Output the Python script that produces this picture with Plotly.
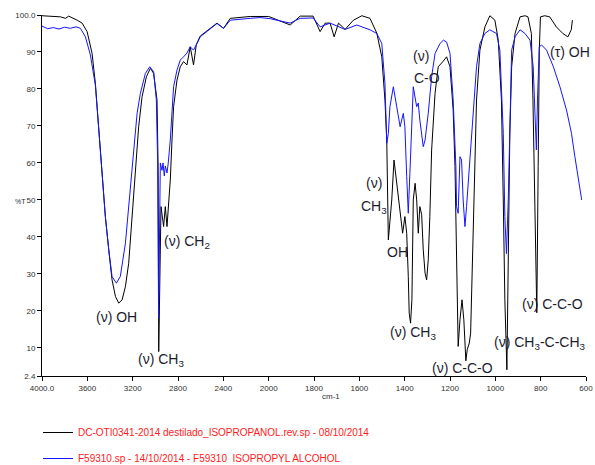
import plotly.graph_objects as go

# ---- Spectrum 1: distilled isopropanol (black) ----
black_wn = [4000, 3925, 3837, 3793, 3764, 3690, 3646, 3602, 3558, 3529, 3508, 3485, 3461, 3441,
            3411, 3382, 3352, 3323, 3293, 3264, 3235, 3205, 3176, 3147, 3117, 3079, 3044, 3015,
            2985, 2975, 2970, 2950, 2927, 2912, 2897, 2886, 2868, 2853, 2839, 2809, 2780, 2751,
            2721, 2692, 2663, 2639, 2604, 2545, 2456, 2398, 2339, 2163, 2000, 1905, 1861, 1804,
            1773, 1751, 1729, 1711, 1692, 1663, 1626, 1589, 1553, 1523, 1501, 1487, 1479, 1472,
            1457, 1447, 1435, 1420, 1409, 1399, 1391, 1384, 1380, 1374, 1368, 1362, 1354, 1347,
            1340, 1333, 1325, 1318, 1310, 1303, 1296, 1289, 1281, 1266, 1252, 1230, 1215, 1200,
            1186, 1178, 1171, 1164, 1156, 1147, 1139, 1130, 1124, 1115, 1109, 1105, 1097, 1090,
            1083, 1068, 1046, 1024, 1002, 987, 973, 965, 958, 949, 943, 936, 928, 913, 891, 869,
            856, 841, 834, 827, 817, 811, 806, 801, 782, 760, 731, 702, 680, 665, 660]
black_t = [99.8, 99.6, 99.5, 99.1, 99.7, 98.6, 97.8, 95.5, 89.6, 81.5, 72.5, 63.5, 54.6, 45.5,
           36.5, 28.4, 23.9, 22.1, 23.0, 26.6, 32.9, 45.5, 59.0, 69.8, 77.9, 83.3, 85.6, 84.2,
           77.0, 58.0, 9.0, 48.2, 42.8, 48.2, 42.8, 47.3, 55.4, 66.2, 75.2, 82.4, 86.0, 87.4,
           86.5, 91.4, 86.5, 91.9, 94.3, 95.7, 97.8, 96.4, 99.1, 99.6, 99.6, 97.3, 99.7, 99.7,
           95.5, 97.8, 97.8, 94.1, 97.8, 96.1, 98.6, 99.8, 99.1, 95.1, 88.7, 77.0, 66.2, 39.2,
           50.0, 60.8, 54.5, 48.2, 41.0, 45.5, 41.0, 29.3, 19.4, 16.7, 23.0, 50.0, 54.5, 50.0,
           41.0, 48.2, 46.0, 36.5, 30.2, 28.4, 33.8, 45.5, 63.5, 78.8, 86.0, 87.5, 88.7, 86.0,
           74.3, 59.0, 32.0, 10.4, 17.6, 23.0, 17.6, 6.5, 9.5, 11.3, 14.0, 23.0, 41.0, 59.0,
           77.0, 90.5, 96.8, 99.8, 98.6, 93.2, 77.0, 50.0, 23.0, 4.1, 32.0, 68.0, 86.0, 95.0, 99.5, 99.8,
           99.5, 95.0, 77.0, 50.0, 19.5, 59.0, 90.5, 99.5, 99.8, 99.5, 96.8, 95.0, 94.1, 96.0, 98.6]

# ---- Spectrum 2: reference isopropyl alcohol F59310 (blue) ----
blue_wn = [4000, 3950, 3900, 3850, 3800, 3750, 3700, 3661, 3617, 3573, 3529, 3485, 3441, 3411,
           3382, 3344, 3309, 3264, 3235, 3191, 3161, 3132, 3088, 3050, 3015, 2991, 2980, 2971,
           2960, 2956, 2941, 2932, 2921, 2912, 2897, 2886, 2868, 2853, 2839, 2809, 2780, 2751,
           2721, 2692, 2663, 2604, 2545, 2456, 2398, 2339, 2163, 2075, 1993, 1905, 1861, 1804,
           1773, 1729, 1663, 1611, 1553, 1523, 1501, 1487, 1479, 1472, 1465, 1450, 1435, 1420,
           1406, 1399, 1391, 1384, 1377, 1369, 1362, 1347, 1340, 1333, 1318, 1310, 1296, 1281,
           1266, 1244, 1229, 1215, 1200, 1186, 1174, 1171, 1164, 1156, 1149, 1142, 1134, 1127,
           1120, 1105, 1083, 1068, 1046, 1024, 995, 980, 965, 958, 951, 943, 936, 928, 913, 891,
           869, 847, 833, 825, 819, 814, 806, 796, 774, 744, 715, 686, 664, 649, 634, 619]
blue_t = [97.0, 96.3, 96.6, 96.2, 96.7, 96.4, 96.8, 96.4, 94.1, 89.2, 81.0, 63.5, 45.5, 36.5,
          29.3, 27.5, 29.3, 38.3, 48.2, 63.5, 73.4, 78.8, 84.2, 86.0, 84.7, 77.0, 60.8, 18.0,
          50.0, 60.0, 58.0, 60.0, 56.5, 59.2, 57.3, 60.0, 66.2, 72.5, 80.6, 85.1, 87.8, 88.7,
          89.7, 91.4, 90.5, 94.1, 95.5, 97.7, 96.4, 98.6, 99.1, 99.3, 99.0, 97.8, 99.1, 99.2,
          96.8, 97.8, 96.1, 97.3, 96.0, 95.0, 92.3, 81.5, 65.3, 68.0, 75.2, 80.6, 75.2, 69.8,
          73.4, 69.8, 56.3, 46.4, 57.2, 68.0, 80.6, 75.2, 76.2, 71.6, 64.4, 66.2, 73.4, 83.3,
          89.6, 92.3, 93.2, 92.7, 89.6, 77.0, 59.0, 48.2, 46.4, 61.7, 60.8, 50.0, 42.8, 48.2,
          54.5, 68.0, 86.0, 92.3, 95.0, 96.0, 95.0, 90.5, 68.0, 45.5, 35.5, 50.0, 71.6, 90.5, 94.1, 96.0,
          95.0, 93.2, 86.0, 72.5, 63.5, 77.0, 91.4, 91.9, 90.5, 86.0, 80.6, 74.3, 68.0, 61.7, 56.3, 50.0]

black_name = "DC-OTI0341-2014 destilado_ISOPROPANOL.rev.sp - 08/10/2014"
blue_name = "F59310.sp - 14/10/2014 - F59310 \u00a0ISOPROPYL ALCOHOL"

x_tick_wn = [4000, 3600, 3200, 2800, 2400, 2000, 1800, 1600, 1400, 1200, 1000, 800, 600]
x_tick_labels = ["4000.0", "3600", "3200", "2800", "2400", "2000", "1800", "1600",
                 "1400", "1200", "1000", "800", "600"]
y_tick_vals = [2.4, 10, 20, 30, 40, 50, 60, 70, 80, 90, 100]
y_tick_labels = ["2.4", "10", "20", "30", "40", "50", "60", "70", "80", "90", "100.0"]


def to_axis(wn):
    """Usual IR abscissa: 400 cm-1 per division above 2000, 200 cm-1 per division below."""
    if wn >= 2000:
        return (4000 - wn) / 400.0
    return 5 + (2000 - wn) / 200.0


fig = go.Figure()
fig.add_trace(go.Scatter(x=[to_axis(w) for w in black_wn], y=black_t, mode="lines",
                         name=black_name, legendgroup="a",
                         line=dict(color="#000000", width=1)))
fig.add_trace(go.Scatter(x=[to_axis(w) for w in blue_wn], y=blue_t, mode="lines",
                         name=blue_name, legendgroup="b",
                         line=dict(color="#1414ff", width=1)))

label_font = dict(family="Arial, Liberation Sans, sans-serif", size=14, color="#1c1c30")
nu = "(\u03bd)"
labels = [
    (3344, 18.4, f"{nu} OH"),
    (2947, 6.8, f"{nu} CH<sub>3</sub>"),
    (2718, 38.6, f"{nu} CH<sub>2</sub>"),
    (1535, 54.6, nu),
    (1537, 48.1, "CH<sub>3</sub>"),
    (1430, 35.9, "OH"),
    (1363, 14.1, f"{nu} CH<sub>3</sub>"),
    (1328, 88.9, nu),
    (1302, 83.0, "C-O"),
    (1143, 4.6, f"{nu} C-C-O"),
    (804, 11.4, f"{nu} CH<sub>3</sub>-C-CH<sub>3</sub>"),
    (747, 21.9, f"{nu} C-C-O"),
    (672, 90.0, "(\u03c4) OH"),
]
for wn, t, txt in labels:
    fig.add_annotation(x=to_axis(wn), y=t, xref="x", yref="y", text=txt, showarrow=False,
                       xanchor="center", yanchor="middle", font=label_font)

# figure geometry (pixels)
W, H = 595, 465
ml, mr, mt, mb = 42, 9, 15, 89
pw, ph = W - ml - mr, H - mt - mb


def px_to_paper(px, py):
    return (px - ml) / pw, (H - mb - py) / ph


small_font = dict(family="Arial, Liberation Sans, sans-serif", size=8, color="#303030")
cx, cy = px_to_paper(331, 403)
fig.add_annotation(x=cx, y=cy, xref="paper", yref="paper", text="cm-1",
                   showarrow=False, font=small_font)
tx, ty = px_to_paper(13, 201)
fig.add_annotation(x=tx, y=ty, xref="paper", yref="paper", text="%T",
                   showarrow=False, font=dict(small_font, size=7))

fig.update_layout(
    width=W, height=H,
    margin=dict(l=ml, r=mr, t=mt, b=mb, autoexpand=False),
    paper_bgcolor="white", plot_bgcolor="white",
    font=dict(family="Arial, Liberation Sans, sans-serif", size=8, color="#303030"),
    showlegend=True,
    legend=dict(xref="container", yref="container", x=38 / W, y=1 - 418 / H,
                xanchor="left", yanchor="top", orientation="v",
                font=dict(size=10, color="#ff1a1a"), tracegroupgap=7,
                bgcolor="rgba(0,0,0,0)"),
    xaxis=dict(range=[0, 12], tickmode="array",
               tickvals=[to_axis(w) for w in x_tick_wn], ticktext=x_tick_labels,
               showgrid=False, zeroline=False, showline=True, linecolor="black", linewidth=1,
               ticks="outside", ticklen=4, tickcolor="black", tickfont=dict(size=8)),
    yaxis=dict(range=[2.4, 100], tickmode="array", tickvals=y_tick_vals, ticktext=y_tick_labels,
               showgrid=False, zeroline=False, showline=True, linecolor="black", linewidth=1,
               ticks="outside", ticklen=4, tickcolor="black", tickfont=dict(size=8)),
)

fig.write_html("out.html")
